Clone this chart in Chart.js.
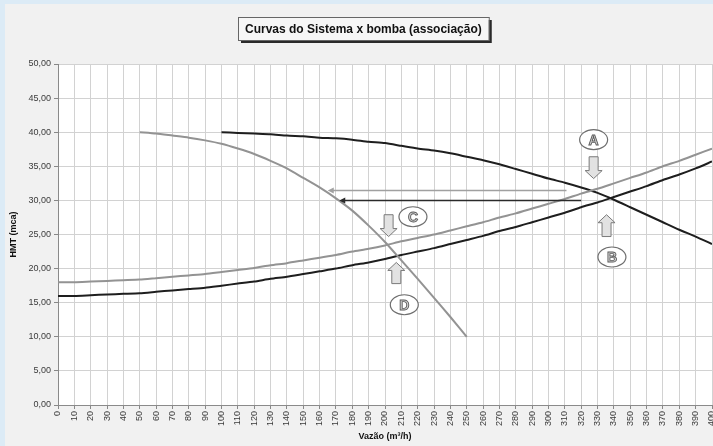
<!DOCTYPE html>
<html><head><meta charset="utf-8">
<script src="https://cdn.jsdelivr.net/npm/chart.js@4.4.1/dist/chart.umd.min.js"></script>
<style>html,body{margin:0;padding:0;background:#dcebf6;}#wrap{width:713px;height:446px;position:relative}canvas{display:block}</style>
</head><body><div id="wrap"><canvas id="c" width="713" height="446"></canvas></div>
<script>
const chartTitle = 'Curvas do Sistema x bomba (associação)';
const xAxisTitle = 'Vazão (m³/h)';
const yAxisTitle = 'HMT (mca)';

// System curves (flow 0..400 m3/h)
const flowSystem = [0,10,20,30,40,50,60,70,80,90,100,110,120,130,140,150,160,170,180,190,200,210,220,230,240,250,260,270,280,290,300,310,320,330,340,350,360,370,380,390,400];
const headSystemLight = [18.0,18.0,18.1,18.2,18.3,18.4,18.6,18.8,19.0,19.2,19.5,19.8,20.1,20.5,20.8,21.2,21.6,22.0,22.5,22.9,23.4,24.0,24.5,25.0,25.6,26.2,26.8,27.5,28.1,28.8,29.5,30.2,31.0,31.7,32.5,33.3,34.1,35.0,35.8,36.7,37.6];
const headSystemDark = [16.0,16.0,16.1,16.2,16.3,16.4,16.6,16.8,17.0,17.2,17.5,17.8,18.1,18.5,18.8,19.2,19.6,20.0,20.5,20.9,21.4,22.0,22.5,23.0,23.6,24.2,24.8,25.5,26.1,26.8,27.5,28.2,29.0,29.7,30.5,31.3,32.1,33.0,33.8,34.7,35.7];

// Pump curves
const flowPumpDark = [100,110,120,130,140,150,160,170,180,190,200,210,220,230,240,250,260,270,280,290,300,310,320,330,340,350,360,370,380,390,400];
const headPumpDark = [40.0,39.9,39.8,39.7,39.5,39.4,39.2,39.1,38.9,38.6,38.4,38.0,37.6,37.3,36.9,36.4,35.9,35.3,34.6,33.9,33.2,32.6,31.9,31.1,30.1,29.0,27.9,26.8,25.7,24.7,23.6];
const flowPumpLight = [50,60,70,80,90,100,110,120,130,140,150,160,170,180,190,200,210,220,230,240,250];
const headPumpLight = [40.0,39.8,39.5,39.2,38.8,38.3,37.6,36.8,35.8,34.7,33.3,31.9,30.3,28.5,26.3,23.9,21.2,18.5,15.7,12.9,10.0];

// Horizontal read-off arrows (head, from flow, to flow)
const arrowHeads = [31.5, 30.05];
const arrowFrom = [311, 320];
const arrowTo = [165, 172];

// Point markers: letter, anchor flow/head, block-arrow flow, start head, end head
const markerLetters = ['A','B','C','D'];
const markerX = [327.6, 338.8, 217.1, 211.8];
const markerY = [38.9, 21.7, 27.6, 14.7];
const blockX = [327.6, 335.5, 202.2, 206.9];
const blockFrom = [36.4, 24.7, 27.9, 17.8];
const blockTo = [33.2, 27.9, 24.7, 20.9];

const LIGHT = '#939393', DARK = '#1e1e1e';
const pts = (xs, ys) => xs.map((x, i) => ({x, y: ys[i]}));

const bgPlugin = {
  id: 'bg',
  beforeDraw(chart) {
    const {ctx, chartArea: a} = chart;
    ctx.save();
    ctx.fillStyle = '#dcebf6';
    ctx.fillRect(0, 0, chart.width, chart.height);
    ctx.fillStyle = '#f1f1f1';
    ctx.fillRect(5, 4, chart.width - 5, chart.height - 4);
    ctx.fillStyle = '#ffffff';
    ctx.fillRect(a.left, a.top, a.right - a.left, a.bottom - a.top);
    // title box
    ctx.font = 'bold 12px "Liberation Sans", Arial, sans-serif';
    const tw = ctx.measureText(chartTitle).width;
    const bw = tw + 14, bh = 23;
    const bx = Math.round(363 - bw / 2), by = 17;
    ctx.fillStyle = '#2a2a2a';
    ctx.fillRect(bx + 3, by + 3, bw, bh);
    ctx.fillStyle = '#f6f6f6';
    ctx.fillRect(bx, by, bw, bh);
    ctx.strokeStyle = '#666';
    ctx.lineWidth = 1;
    ctx.strokeRect(bx + 0.5, by + 0.5, bw, bh);
    ctx.fillStyle = '#111';
    ctx.textAlign = 'center';
    ctx.textBaseline = 'middle';
    ctx.fillText(chartTitle, bx + bw / 2, by + bh / 2 + 1);
    ctx.restore();
  }
};

const annoPlugin = {
  id: 'anno',
  afterDatasetsDraw(chart) {
    const {ctx, scales: {x, y}} = chart;
    ctx.save();
    // read-off arrows
    arrowHeads.forEach((h, i) => {
      const py = Math.round(y.getPixelForValue(h)) + 0.5;
      const x0 = x.getPixelForValue(arrowFrom[i]);
      const x1 = x.getPixelForValue(arrowTo[i]);
      const col = i === 0 ? '#a0a0a0' : '#2a2a2a';
      ctx.strokeStyle = col;
      ctx.lineWidth = 1.3;
      ctx.beginPath();
      ctx.moveTo(x0, py); ctx.lineTo(x1 + 4, py); ctx.stroke();
      ctx.fillStyle = col;
      ctx.beginPath();
      ctx.moveTo(x1, py); ctx.lineTo(x1 + 6, py - 3); ctx.lineTo(x1 + 6, py + 3); ctx.closePath(); ctx.fill();
    });
    // block arrows
    blockX.forEach((bxv, i) => {
      const px = x.getPixelForValue(bxv);
      const p0 = y.getPixelForValue(blockFrom[i]);
      const p1 = y.getPixelForValue(blockTo[i]);
      const dir = p1 > p0 ? 1 : -1;
      const len = Math.abs(p1 - p0);
      const headLen = 8, sw = 4.5, hw = 8.5;
      const ps = p0 + dir * (len - headLen);
      ctx.beginPath();
      ctx.moveTo(px - sw, p0);
      ctx.lineTo(px + sw, p0);
      ctx.lineTo(px + sw, ps);
      ctx.lineTo(px + hw, ps);
      ctx.lineTo(px, p1);
      ctx.lineTo(px - hw, ps);
      ctx.lineTo(px - sw, ps);
      ctx.closePath();
      ctx.fillStyle = '#e2e2e2';
      ctx.fill();
      ctx.strokeStyle = '#7a7a7a';
      ctx.lineWidth = 1;
      ctx.stroke();
    });
    // ellipses with letters
    markerLetters.forEach((L, i) => {
      const px = x.getPixelForValue(markerX[i]);
      const py = y.getPixelForValue(markerY[i]);
      ctx.beginPath();
      ctx.ellipse(px, py, 14, 10, 0, 0, Math.PI * 2);
      ctx.fillStyle = '#ffffff';
      ctx.fill();
      ctx.strokeStyle = '#6e6e6e';
      ctx.lineWidth = 1.2;
      ctx.stroke();
      ctx.font = 'bold 14px "Liberation Sans", Arial, sans-serif';
      ctx.textAlign = 'center';
      ctx.textBaseline = 'middle';
      ctx.fillStyle = '#d4d4d4';
      ctx.fillText(L, px, py + 1);
      ctx.strokeStyle = '#5a5a5a';
      ctx.lineWidth = 0.9;
      ctx.strokeText(L, px, py + 1);
    });
    ctx.restore();
  }
};

const lineDs = (data, color, w) => ({data, borderColor: color, borderWidth: w, pointRadius: 0, fill: false, tension: 0.2});

new Chart(document.getElementById('c'), {
  type: 'line',
  data: {
    datasets: [
      lineDs(pts(flowSystem, headSystemLight), LIGHT, 2),
      lineDs(pts(flowPumpLight, headPumpLight), LIGHT, 2),
      lineDs(pts(flowSystem, headSystemDark), DARK, 2),
      lineDs(pts(flowPumpDark, headPumpDark), DARK, 2)
    ]
  },
  options: {
    responsive: false,
    animation: false,
    devicePixelRatio: 1,
    layout: {autoPadding: false, padding: {top: 64, right: 1, bottom: 0, left: 0}},
    plugins: {legend: {display: false}, tooltip: {enabled: false}, title: {display: false}},
    scales: {
      x: {
        type: 'linear', min: 0, max: 400,
        afterFit(s) { s.height = 41; s.paddingLeft = 0; s.paddingRight = 0; },
        ticks: {stepSize: 10, autoSkip: false, minRotation: 90, maxRotation: 90, padding: 2,
          color: '#3a3a3a', font: {family: '"Liberation Sans", Arial, sans-serif', size: 9}},
        grid: {color: '#d2d2d2', tickLength: 4, tickColor: '#888'},
        border: {color: '#8a8a8a', width: 1},
        title: {display: true, text: xAxisTitle, color: '#111', padding: {top: 0, bottom: 4},
          font: {family: '"Liberation Sans", Arial, sans-serif', size: 9, weight: 'bold'}}
      },
      y: {
        type: 'linear', min: 0, max: 50,
        afterFit(s) { s.width = 58; s.paddingTop = 0; s.paddingBottom = 0; },
        ticks: {stepSize: 5, padding: 3, color: '#3a3a3a',
          callback: v => v.toFixed(2).replace('.', ','),
          font: {family: '"Liberation Sans", Arial, sans-serif', size: 9}},
        grid: {color: '#d2d2d2', tickLength: 4, tickColor: '#888'},
        border: {color: '#8a8a8a', width: 1},
        title: {display: true, text: yAxisTitle, color: '#111', padding: {top: 8, bottom: 0},
          font: {family: '"Liberation Sans", Arial, sans-serif', size: 9, weight: 'bold'}}
      }
    }
  },
  plugins: [bgPlugin, annoPlugin]
});
</script></body></html>
